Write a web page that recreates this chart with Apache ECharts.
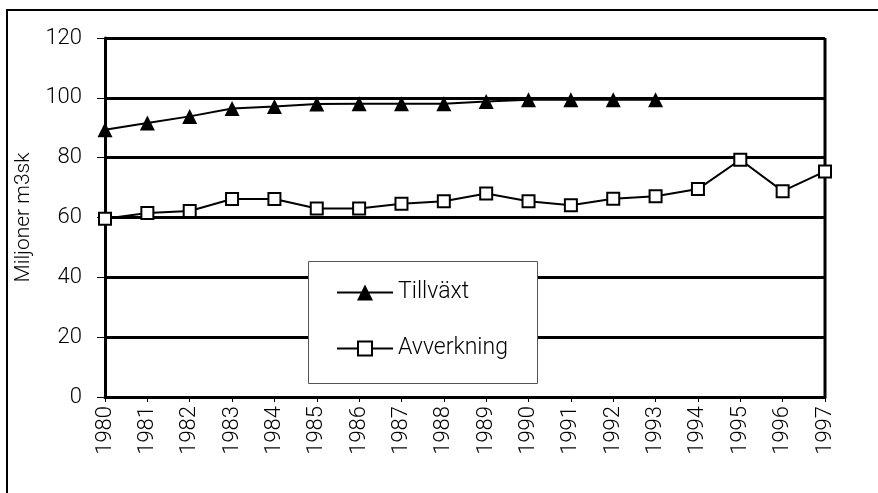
<!DOCTYPE html>
<html><head><meta charset="utf-8">
<script src="https://cdn.jsdelivr.net/npm/echarts@6/dist/echarts.min.js"></script>
<style>html,body{margin:0;padding:0;background:#fff}#c{width:878px;height:493px}</style>
</head><body><div id="c"></div>
<script>
const years = ['1980','1981','1982','1983','1984','1985','1986','1987','1988','1989','1990','1991','1992','1993','1994','1995','1996','1997'];
const tillvaxt = [89.3, 91.6, 93.8, 96.4, 97.1, 97.9, 98.0, 98.0, 98.0, 98.8, 99.4, 99.4, 99.4, 99.4, null, null, null, null];
const avverkning = [59.6, 61.5, 62.2, 66.2, 66.2, 63.0, 63.0, 64.6, 65.4, 68.0, 65.4, 64.1, 66.3, 67.1, 69.5, 79.3, 68.8, 75.4];
const yTicks = [0, 20, 40, 60, 80, 100, 120];
const FONT = 'Roboto, "Liberation Sans", sans-serif';
const ICON_TRI = 'path://M0 7H56V9H0Z M20 16L28 0L36 16Z';
const ICON_SQ = 'path://M0 7H20V9H0Z M36 7H56V9H36Z M20 0H36V16H20Z M22 2V14H34V2Z';
const chart = echarts.init(document.getElementById('c'));
chart.setOption({
  animation: false,
  backgroundColor: '#fff',
  grid: {left: 105, right: 53, top: 38, bottom: 96, show: false},
  graphic: [
    {type: 'rect', shape: {x: 7, y: 10, width: 900, height: 520}, style: {fill: 'none', stroke: '#000', lineWidth: 2}, z: 1},
    {type: 'line', shape: {x1: 825, y1: 38, x2: 825, y2: 397}, style: {stroke: '#000', lineWidth: 3}, z: 2},
    {type: 'rect', shape: {x: 308.5, y: 261.5, width: 229, height: 122}, style: {fill: '#fff', stroke: '#555', lineWidth: 1}, z: 100}
  ],
  legend: {
    orient: 'vertical', left: 332, top: 276, itemGap: 33, itemWidth: 56, itemHeight: 16, z: 101,
    textStyle: {fontFamily: FONT, fontWeight: 300, fontSize: 23, color: '#000'},
    data: [
      {name: 'Tillväxt', icon: ICON_TRI, itemStyle: {color: '#000', borderWidth: 0}},
      {name: 'Avverkning', icon: ICON_SQ, itemStyle: {color: '#000', borderWidth: 0}}
    ]
  },
  xAxis: {
    type: 'category', data: years, boundaryGap: false,
    axisLine: {lineStyle: {color: '#000', width: 3}},
    axisTick: {show: true, length: 5, lineStyle: {color: '#000', width: 1}},
    axisLabel: {rotate: 90, margin: 9, interval: 0, fontFamily: FONT, fontWeight: 300, fontSize: 22, color: '#000'}
  },
  yAxis: {
    type: 'value', min: 0, max: 120, interval: 20,
    name: 'Miljoner m3sk', nameLocation: 'middle', nameGap: 67,
    nameTextStyle: {fontFamily: FONT, fontWeight: 300, fontSize: 21, color: '#000'},
    axisLine: {show: true, lineStyle: {color: '#000', width: 3}},
    axisTick: {show: true, length: 8, lineStyle: {color: '#000', width: 1}},
    axisLabel: {margin: 23, fontFamily: FONT, fontWeight: 300, fontSize: 22, color: '#000',
      formatter: v => yTicks.includes(v) ? String(v) : ''},
    splitLine: {show: true, lineStyle: {color: '#000', width: 3}}
  },
  series: [
    {name: 'Tillväxt', type: 'line', data: tillvaxt, symbol: 'triangle', symbolSize: 15,
      lineStyle: {color: '#000', width: 2}, itemStyle: {color: '#000', borderColor: '#000', borderWidth: 0}, z: 5},
    {name: 'Avverkning', type: 'line', data: avverkning, symbol: 'rect', symbolSize: 12,
      lineStyle: {color: '#000', width: 2}, itemStyle: {color: '#fff', borderColor: '#000', borderWidth: 2}, z: 5}
  ]
});
</script></body></html>
